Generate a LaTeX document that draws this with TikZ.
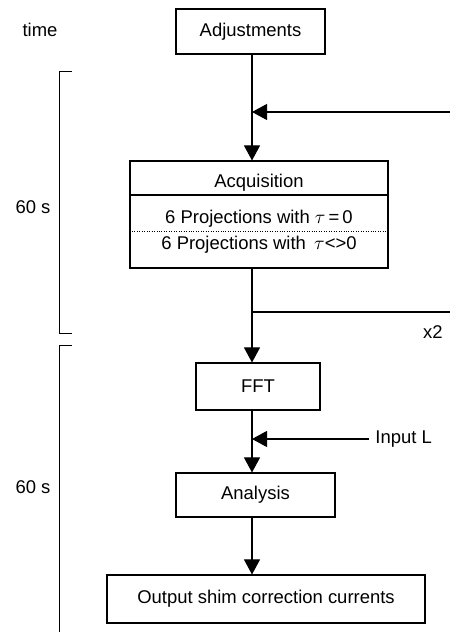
\documentclass[tikz,border=0pt]{standalone}
\usepackage{fontspec}
\setmainfont{Liberation Sans}
\usetikzlibrary{arrows.meta}
\begin{document}
\begin{tikzpicture}[>={Triangle[length=3mm,width=3.2mm]}, line width=0.6pt,
    box/.style={draw, line width=0.6pt, inner sep=0pt},
    lbl/.style={font=\fontsize{10.5}{12}\selectfont}]
    \useasboundingbox (0,0) rectangle (9,12.64);
    \coordinate (axis) at (5.04,0);

    % Flow boxes
    \node[box, lbl, minimum width=2.98cm, minimum height=0.9cm] (adjust) at (5.01,12.01) {Adjustments};
    \node[box, minimum width=5.16cm, minimum height=2.14cm] (acq) at (5.18,8.35) {};
    \node[lbl] (acqtitle) at (5.18,8.98) {Acquisition};
    \node[lbl] (proj0) at (5.18,8.26) {6 Projections with $\tau$\,=\,0};
    \node[lbl] (proj1) at (5.18,7.74) {6 Projections with\, $\tau$<>0};
    \draw (acq.west |- 0,8.74) -- (acq.east |- 0,8.74);
    \draw[densely dotted, line width=0.4pt] (acq.west |- 0,8.02) -- (acq.east |- 0,8.02);
    \node[box, lbl, minimum width=2.48cm, minimum height=0.94cm] (fft) at (5.16,4.91) {FFT};
    \node[box, lbl, minimum width=3.18cm, minimum height=0.88cm] (analysis) at (5.11,2.74) {Analysis};
    \node[box, lbl, minimum width=6.36cm, minimum height=0.96cm] (output) at (5.32,0.66) {Output shim correction currents};

    % Arrows
    \draw[->] (adjust.south -| axis) -- (acq.north -| axis);
    \draw[->] (acq.south -| axis) -- (fft.north -| axis);
    \draw[->] (fft.south -| axis) -- (analysis.north -| axis);
    \draw[->] (analysis.south -| axis) -- (output.north -| axis);

    % Loop back and extra input
    \coordinate (loopin) at (9,10.4);
    \coordinate (loopout) at (9,6.4);
    \draw[->] (loopin) -- (loopin -| axis);
    \draw (loopout -| axis) -- (loopout);
    \node[lbl, anchor=east] (repeat) at (8.98,6.0) {x2};
    \node[lbl, anchor=west] (inputl) at (7.38,3.86) {Input L};
    \draw[->] (inputl.west) -- (inputl.west -| axis);

    % Time scale
    \node[lbl] (timelbl) at (0.8,12.04) {time};
    \draw[line width=0.5pt] (1.44,11.22) -- (1.18,11.22) -- (1.18,5.98) -- (1.44,5.98);
    \node[lbl] (span1) at (0.66,8.5) {60 s};
    \draw[line width=0.5pt] (1.44,5.74) -- (1.18,5.74) -- (1.18,0);
    \node[lbl] (span2) at (0.66,2.9) {60 s};
\end{tikzpicture}
\end{document}
